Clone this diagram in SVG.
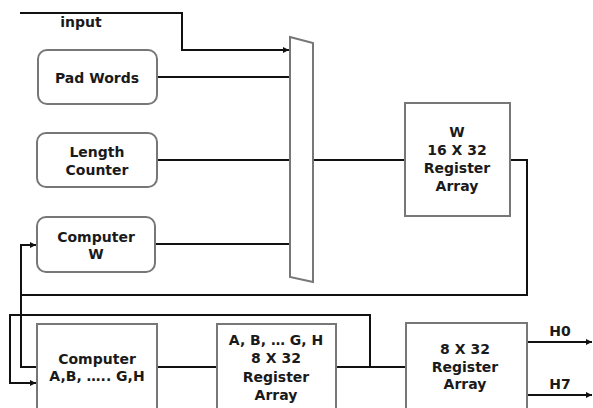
<svg xmlns="http://www.w3.org/2000/svg" width="593" height="408" viewBox="0 0 593 408">
<defs>
<marker id="ah" viewBox="0 0 10 10" refX="10" refY="5" markerWidth="6" markerHeight="6" markerUnits="userSpaceOnUse" orient="auto"><path d="M0,0 L10,5 L0,10 z" fill="#111"/></marker>
<style>
.box{fill:#fff;stroke:#777;stroke-width:2}
.w{fill:none;stroke:#111;stroke-width:2}
text{font-family:"DejaVu Sans","Liberation Sans",sans-serif;font-weight:bold;font-size:14px;fill:#1a1a1a;text-anchor:middle}
</style>
</defs>
<rect width="593" height="408" fill="#fff"/>
<g id="connectors">
<polyline class="w" points="20,13 182,13 182,50 289,50" marker-end="url(#ah)"/>
<line class="w" x1="157" y1="77" x2="290" y2="77"/>
<line class="w" x1="157" y1="160" x2="290" y2="160"/>
<line class="w" x1="155" y1="244" x2="290" y2="244"/>
<line class="w" x1="313" y1="160" x2="405" y2="160"/>
<polyline class="w" points="510,160 527,160 527,295 21,295 21,245 36,245" marker-end="url(#ah)"/>
<polyline class="w" points="21,295 21,367 37,367"/>
<line class="w" x1="157" y1="367" x2="217" y2="367"/>
<line class="w" x1="336" y1="367" x2="406" y2="367"/>
<polyline class="w" points="370,367 370,315 10,315 10,383 36,383" marker-end="url(#ah)"/>
<line class="w" x1="527" y1="342" x2="592" y2="342" marker-end="url(#ah)"/>
<line class="w" x1="527" y1="395" x2="592" y2="395" marker-end="url(#ah)"/>
</g>
<g id="input-label"><text x="81" y="27">input</text></g>
<g id="mux"><polygon class="box" points="290,37 313,43 313,282 290,277"/></g>
<g id="pad-words"><rect class="box" x="38" y="50" width="119" height="54" rx="9"/><text x="97" y="83">Pad Words</text></g>
<g id="length-counter"><rect class="box" x="37" y="133" width="120" height="54" rx="9"/><text x="97" y="157">Length</text><text x="97" y="175">Counter</text></g>
<g id="computer-w"><rect class="box" x="37" y="217" width="118" height="55" rx="9"/><text x="96" y="242">Computer</text><text x="96" y="259">W</text></g>
<g id="w-register"><rect class="box" x="405" y="103" width="105" height="113"/><text x="457" y="137">W</text><text x="457" y="155">16 X 32</text><text x="457" y="173">Register</text><text x="457" y="191">Array</text></g>
<g id="computer-abh"><rect class="box" x="37" y="324" width="120" height="90"/><text x="97" y="364">Computer</text><text x="97" y="381">A,B, ….. G,H</text></g>
<g id="abh-register"><rect class="box" x="217" y="324" width="119" height="90"/><text x="276" y="345">A, B, … G, H</text><text x="276" y="363">8 X 32</text><text x="276" y="382">Register</text><text x="276" y="400">Array</text></g>
<g id="h-register"><rect class="box" x="406" y="323" width="121" height="91"/><text x="465" y="354">8 X 32</text><text x="465" y="372">Register</text><text x="465" y="389">Array</text></g>
<g id="outputs"><text x="560" y="336">H0</text><text x="560" y="389">H7</text></g>
</svg>
